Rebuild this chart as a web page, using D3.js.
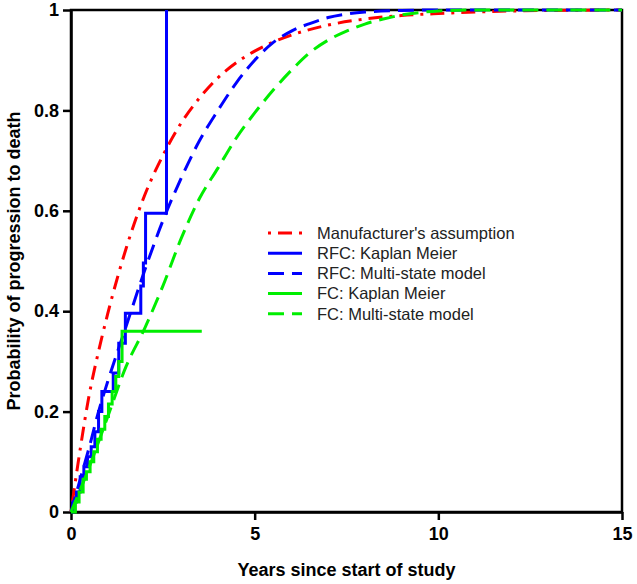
<!DOCTYPE html>
<html>
<head>
<meta charset="utf-8">
<script src="https://cdn.jsdelivr.net/npm/d3@7"></script>
<style>
  body { margin: 0; background: #fff; }
  svg text { font-family: "Liberation Sans", Arial, sans-serif; }
</style>
</head>
<body>
<svg id="chart" width="637" height="584"></svg>
<script>
// ---- data ----
// Manufacturer's assumption
const manufTime = [0, 0.25, 0.5, 0.75, 1, 1.5, 2, 2.5, 3, 3.5, 4, 4.5, 5, 5.5, 6, 7, 8, 9, 10, 11, 12, 15];
const manufProb = [0, 0.125, 0.235, 0.32, 0.395, 0.525, 0.63, 0.71, 0.775, 0.825, 0.865, 0.895, 0.918, 0.936, 0.95, 0.97, 0.982, 0.989, 0.993, 0.996, 0.998, 1];

// RFC: Kaplan Meier (step function)
const rfcKmTime = [0, 0.05, 0.15, 0.25, 0.35, 0.45, 0.55, 0.65, 0.75, 0.84, 1.15, 1.3, 1.48, 1.9, 1.97, 2.03, 2.6];
const rfcKmProb = [0, 0.02, 0.04, 0.07, 0.09, 0.11, 0.13, 0.16, 0.2, 0.24, 0.277, 0.336, 0.396, 0.45, 0.496, 0.595, 1.0];

// RFC: Multi-state model
const rfcMsTime = [0, 0.25, 0.5, 0.75, 1, 1.5, 2, 2.5, 3, 3.5, 4, 4.5, 5, 5.5, 6, 6.5, 7, 7.5, 8, 9, 10, 15];
const rfcMsProb = [0, 0.065, 0.13, 0.2, 0.26, 0.37, 0.48, 0.58, 0.665, 0.74, 0.8, 0.855, 0.9, 0.935, 0.958, 0.973, 0.985, 0.992, 0.996, 0.999, 1, 1];

// FC: Kaplan Meier (step function)
const fcKmTime = [0, 0.12, 0.22, 0.33, 0.42, 0.52, 0.62, 0.72, 0.82, 0.92, 1.02, 1.12, 1.22, 1.3, 1.39, 3.56];
const fcKmProb = [0, 0.02, 0.04, 0.065, 0.08, 0.1, 0.12, 0.145, 0.165, 0.19, 0.215, 0.24, 0.27, 0.3, 0.36, 0.36];

// FC: Multi-state model
const fcMsTime = [0, 0.5, 1, 1.5, 2, 2.5, 3, 3.5, 4, 4.5, 5, 5.5, 6, 6.5, 7, 7.5, 8, 8.5, 9, 9.5, 10, 11, 15];
const fcMsProb = [0, 0.09, 0.19, 0.29, 0.365, 0.45, 0.545, 0.625, 0.685, 0.745, 0.795, 0.84, 0.88, 0.915, 0.94, 0.958, 0.972, 0.982, 0.99, 0.995, 0.998, 1, 1];

const xTicks = [0, 5, 10, 15];
const yTicks = [0, 0.2, 0.4, 0.6, 0.8, 1];

const series = [
  { name: "Manufacturer's assumption", time: manufTime, prob: manufProb, color: "#ff0000", dash: "3,7,14,7", step: false },
  { name: "RFC: Kaplan Meier", time: rfcKmTime, prob: rfcKmProb, color: "#0000ff", dash: null, step: true },
  { name: "RFC: Multi-state model", time: rfcMsTime, prob: rfcMsProb, color: "#0000ff", dash: "16,8", step: false },
  { name: "FC: Kaplan Meier", time: fcKmTime, prob: fcKmProb, color: "#00ee00", dash: null, step: true },
  { name: "FC: Multi-state model", time: fcMsTime, prob: fcMsProb, color: "#00ee00", dash: "16,8", step: false }
];

// ---- layout ----
const svg = d3.select("#chart");
const plotL = 71, plotR = 622, plotT = 10, plotB = 512;

const x = d3.scaleLinear().domain([0, 15]).range([plotL, plotR]);
const y = d3.scaleLinear().domain([0, 1]).range([plotB, plotT]);

// frame (top / right)
svg.append("rect")
    .attr("x", plotL).attr("y", plotT)
    .attr("width", plotR - plotL).attr("height", plotB - plotT)
    .attr("fill", "none")
    .attr("stroke", "#000")
    .attr("stroke-width", 2.5);

// axes
const xAxis = svg.append("g")
    .attr("transform", `translate(0,${plotB})`)
    .call(d3.axisBottom(x).tickValues(xTicks).tickSize(8).tickSizeOuter(0).tickFormat(d3.format("d")));
const yAxis = svg.append("g")
    .attr("transform", `translate(${plotL},0)`)
    .call(d3.axisLeft(y).tickValues(yTicks).tickSize(8).tickSizeOuter(0).tickFormat(d => d === 0 || d === 1 ? d : d3.format(".1f")(d)));

[xAxis, yAxis].forEach(g => {
  g.select(".domain").attr("stroke-width", 2.5);
  g.selectAll(".tick line").attr("stroke-width", 2.5);
  g.selectAll(".tick text")
    .attr("font-size", 18)
    .attr("font-weight", "bold")
    .attr("fill", "#000")
    .style("font-family", "'Liberation Sans', Arial, sans-serif");
});
xAxis.selectAll(".tick text").attr("dy", "0.95em").attr("y", 11);
yAxis.selectAll(".tick text").attr("x", -12);

// axis titles
svg.append("text")
    .attr("x", (plotL + plotR) / 2)
    .attr("y", 576)
    .attr("text-anchor", "middle")
    .attr("font-size", 18)
    .attr("font-weight", "bold")
    .text("Years since start of study");

svg.append("text")
    .attr("transform", `translate(20,${(plotT + plotB) / 2}) rotate(-90)`)
    .attr("text-anchor", "middle")
    .attr("font-size", 18)
    .attr("font-weight", "bold")
    .text("Probability of progression to death");

// curves
const smoothLine = d3.line().x(d => x(d[0])).y(d => y(d[1])).curve(d3.curveMonotoneX);
const stepLine = d3.line().x(d => x(d[0])).y(d => y(d[1])).curve(d3.curveStepAfter);

series.forEach(s => {
  const pts = s.time.map((t, i) => [t, s.prob[i]]);
  svg.append("path")
      .datum(pts)
      .attr("d", s.step ? stepLine : smoothLine)
      .attr("fill", "none")
      .attr("stroke", s.color)
      .attr("stroke-width", 3)
      .attr("stroke-dasharray", s.dash);
});

// legend
const legend = svg.append("g").attr("transform", "translate(268,233)");
series.forEach((s, i) => {
  const row = legend.append("g").attr("transform", `translate(0,${i * 20.2})`);
  row.append("line")
      .attr("x1", 0).attr("x2", 34)
      .attr("y1", 0).attr("y2", 0)
      .attr("stroke", s.color)
      .attr("stroke-width", 3)
      .attr("stroke-dasharray", s.dash);
  row.append("text")
      .attr("x", 49)
      .attr("y", 0)
      .attr("dy", "0.35em")
      .attr("font-size", 16.5)
      .attr("fill", "#222")
      .text(s.name);
});
</script>
</body>
</html>
